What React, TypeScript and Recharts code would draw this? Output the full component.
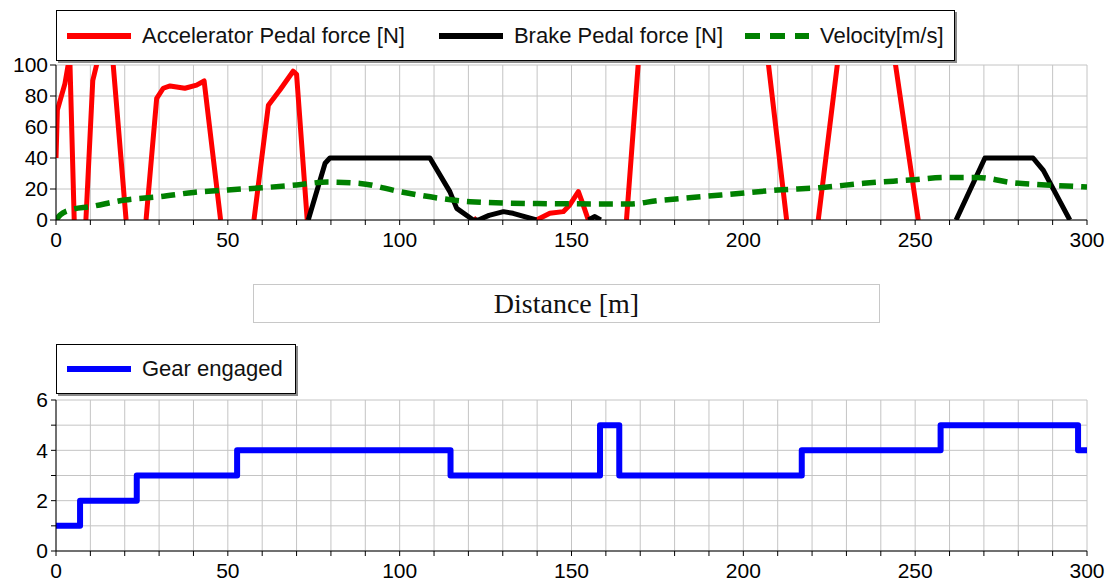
import React from 'react';
import { LineChart, Line, XAxis, YAxis, CartesianGrid } from 'recharts';

// --- axis ticks ---
const distanceTicks = [0, 10, 20, 30, 40, 50, 60, 70, 80, 90, 100, 110, 120, 130, 140, 150, 160, 170, 180, 190, 200, 210, 220, 230, 240, 250, 260, 270, 280, 290, 300];
const distanceLabels = [0, 50, 100, 150, 200, 250, 300];
const forceTicks = [0, 20, 40, 60, 80, 100];
const gearTicks = [0, 1, 2, 3, 4, 5, 6];
const gearLabels = [0, 2, 4, 6];

// --- accelerator pedal force [N] (null = pedal released, line broken) ---
const accelDist = [
  0, 0.4, 2.6, 4.0, 5.3, 5.3,
  8.7, 10.7, 11.8, 12.3, 16.2, 20.4, 20.4,
  26.2, 29.3, 31.2, 33.2, 37.5, 40.9, 43.1, 47.9, 47.9,
  57.6, 61.8, 65.2, 69, 70, 73.1, 73.1,
  121.8, 122.5, 122.5,
  139.8, 143.7, 147.6, 149.5, 152, 153.4, 154.9, 154.9,
  166, 169.8, 206.7, 212.6, 212.6,
  221.8, 228, 243.5, 250.9,
];
const accelForce = [
  40, 71, 88, 106, 0, null,
  0, 90, 100, 112, 112, 0, null,
  0, 78.5, 85, 86.5, 85, 87, 89.7, 0, null,
  0, 74, 84, 96, 94, 0, null,
  0, 1.5, null,
  0, 4.3, 5.4, 9.7, 18.3, 9.7, 0, null,
  0, 112, 112, 0, null,
  0, 112, 112, 0,
];

// --- brake pedal force [N] ---
const brakeDist = [
  73.4, 78.3, 79.7, 108.8, 114.6, 116.6, 121.4, 122.9, 126, 130.2, 133, 139.8, 139.8,
  154.9, 156.8, 158.5, 158.5,
  261.9, 270.3, 284.3, 287.3, 295,
];
const brakeForce = [
  0, 36.6, 40, 40, 18.3, 7.5, 0, 0, 3, 5.4, 4.3, 0, null,
  0, 2.2, 0, null,
  0, 40, 40, 32, 0,
];

// --- velocity [m/s] ---
const velDist = [0, 1.2, 4.1, 10, 20, 30, 40, 50, 60, 70, 79, 88.5, 100, 111.7, 120.5, 137, 167, 175, 185, 197, 210, 222, 235, 248.5, 259, 268, 278.5, 288, 300];
const velValue = [0, 3.2, 6.5, 8.6, 12.9, 15, 17.8, 19.4, 20.8, 22.6, 24.5, 23.6, 18.3, 14, 11.8, 10.7, 10.3, 12.5, 14.5, 16.8, 19.3, 20.8, 23.7, 25.8, 27.5, 27.5, 24, 22.6, 21.3];

// --- gear engaged ---
const gearDist = [0, 7, 23.5, 52.7, 114.8, 158.3, 163.9, 217, 257.4, 297.4, 300];
const gearValue = [1, 2, 3, 4, 3, 5, 3, 4, 5, 4, 4];

const toPoints = (xs: number[], ys: (number | null)[]) => xs.map((x, i) => ({ x, y: ys[i] }));

const accelData = toPoints(accelDist, accelForce);
const brakeData = toPoints(brakeDist, brakeForce);
const velData = toPoints(velDist, velValue);
const gearData = toPoints(gearDist, gearValue);

const FONT = '"Liberation Sans", Arial, sans-serif';
const tickStyle = { fill: '#000', fontSize: 21, fontFamily: FONT };
const GRID = '#c4c4c4';
const BORDER = '#333';

const legendBox: React.CSSProperties = {
  position: 'absolute',
  display: 'flex',
  alignItems: 'center',
  boxSizing: 'border-box',
  background: '#fff',
  border: '1px solid #000',
  boxShadow: '2px 2px 0 #8a8a8a',
  padding: '0 10px',
  fontFamily: FONT,
  fontSize: 22,
  color: '#111',
  whiteSpace: 'nowrap',
};

const LegendItem = ({ color, dash, label, gap }: { color: string; dash?: string; label: string; gap?: number }) => (
  <div style={{ display: 'flex', alignItems: 'center', marginRight: gap ?? 0 }}>
    <svg width={64} height={10} style={{ marginRight: 11 }}>
      <line x1={0} y1={5} x2={64} y2={5} stroke={color} strokeWidth={6} strokeDasharray={dash} />
    </svg>
    <span>{label}</span>
  </div>
);

const distFormatter = (v: number) => (distanceLabels.includes(v) ? String(v) : '');
const gearFormatter = (v: number) => (gearLabels.includes(v) ? String(v) : '');

export default function App() {
  return (
    <div style={{ position: 'absolute', left: 0, top: 0, width: 1111, height: 586, background: '#fff', overflow: 'hidden' }}>
      {/* top chart: pedal forces and velocity */}
      <div style={{ position: 'absolute', left: 0, top: 0 }}>
        <LineChart width={1111} height={260} margin={{ top: 65, right: 24, bottom: 10, left: 0 }}>
          <CartesianGrid stroke={GRID} strokeWidth={1} />
          <XAxis
            dataKey="x"
            type="number"
            domain={[0, 300]}
            ticks={distanceTicks}
            interval={0}
            tickFormatter={distFormatter}
            tick={tickStyle}
            tickSize={5}
            tickMargin={7}
            height={30}
            stroke="#000"
            allowDataOverflow
          />
          <XAxis xAxisId="top" orientation="top" type="number" domain={[0, 300]} tick={false} tickLine={false} height={0} stroke={BORDER} />
          <YAxis
            type="number"
            domain={[0, 100]}
            ticks={forceTicks}
            interval={0}
            tick={tickStyle}
            tickSize={6}
            tickMargin={2}
            width={56}
            stroke="#000"
            allowDataOverflow
          />
          <YAxis yAxisId="right" orientation="right" domain={[0, 100]} tick={false} tickLine={false} width={0} stroke={BORDER} />
          <Line data={accelData} dataKey="y" stroke="#ff0000" strokeWidth={5} dot={false} isAnimationActive={false} strokeLinejoin="round" />
          <Line data={brakeData} dataKey="y" stroke="#000000" strokeWidth={5} dot={false} isAnimationActive={false} strokeLinejoin="round" />
          <Line data={velData} dataKey="y" type="monotone" stroke="#008000" strokeWidth={5.5} strokeDasharray="14 8" dot={false} isAnimationActive={false} />
        </LineChart>
      </div>

      <div style={{ ...legendBox, left: 56, top: 10, height: 51 }}>
        <LegendItem color="#ff0000" label="Accelerator Pedal force [N]" gap={34} />
        <LegendItem color="#000000" label="Brake Pedal force [N]" gap={22} />
        <LegendItem color="#008000" dash="15 10" label="Velocity[m/s]" />
      </div>

      {/* shared x-axis title */}
      <div
        style={{
          position: 'absolute',
          left: 253,
          top: 284,
          width: 627,
          height: 39,
          boxSizing: 'border-box',
          border: '1px solid #c8c8c8',
          display: 'flex',
          alignItems: 'center',
          justifyContent: 'center',
          fontFamily: '"Liberation Serif", "Times New Roman", serif',
          fontSize: 28,
          color: '#111',
        }}
      >
        Distance [m]
      </div>

      {/* bottom chart: gear */}
      <div style={{ position: 'absolute', left: 0, top: 340 }}>
        <LineChart width={1111} height={246} margin={{ top: 60, right: 24, bottom: 5, left: 0 }}>
          <CartesianGrid stroke={GRID} strokeWidth={1} />
          <XAxis
            dataKey="x"
            type="number"
            domain={[0, 300]}
            ticks={distanceTicks}
            interval={0}
            tickFormatter={distFormatter}
            tick={tickStyle}
            tickSize={5}
            tickMargin={7}
            height={30}
            stroke="#000"
          />
          <XAxis xAxisId="top" orientation="top" type="number" domain={[0, 300]} tick={false} tickLine={false} height={0} stroke={BORDER} />
          <YAxis
            type="number"
            domain={[0, 6]}
            ticks={gearTicks}
            interval={0}
            tickFormatter={gearFormatter}
            tick={tickStyle}
            tickSize={5}
            tickMargin={3}
            width={56}
            stroke="#000"
          />
          <YAxis yAxisId="right" orientation="right" domain={[0, 6]} tick={false} tickLine={false} width={0} stroke={BORDER} />
          <Line data={gearData} dataKey="y" type="stepAfter" stroke="#0000ff" strokeWidth={6} dot={false} isAnimationActive={false} strokeLinejoin="round" />
        </LineChart>
      </div>

      <div style={{ ...legendBox, left: 56, top: 344, height: 50, paddingRight: 12 }}>
        <LegendItem color="#0000ff" label="Gear engaged" />
      </div>
    </div>
  );
}
